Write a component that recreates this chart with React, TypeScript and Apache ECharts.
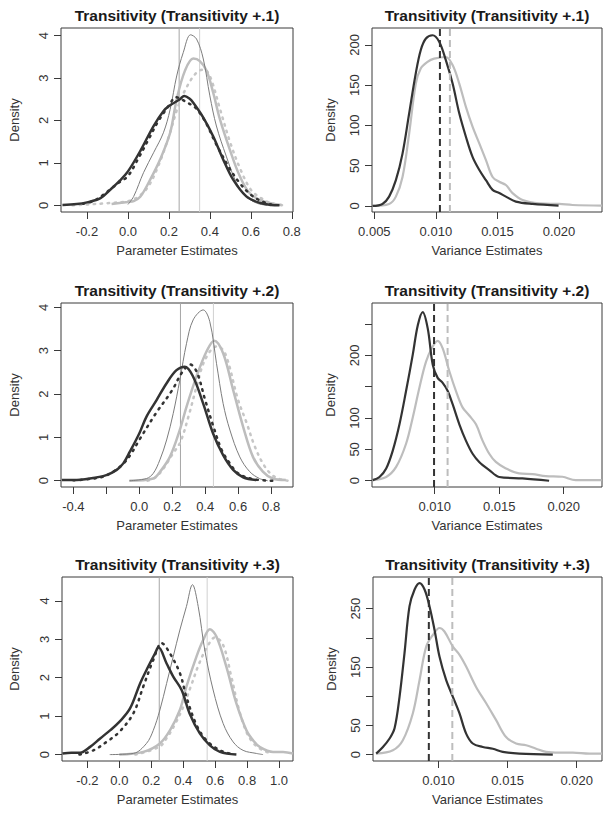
import React, { useEffect, useRef } from "react";
import * as echarts from "echarts";

// ---------- Data ----------
// Panel 1: Parameter estimates, Transitivity +.1
const p1DarkSolid = [[-0.32,0.01],[-0.25,0.03],[-0.2,0.07],[-0.134,0.17],[-0.086,0.37],[-0.04,0.58],[0.0,0.8],[0.06,1.28],[0.125,1.87],[0.173,2.22],[0.2,2.34],[0.254,2.5],[0.275,2.58],[0.3,2.52],[0.319,2.42],[0.368,2.07],[0.416,1.63],[0.465,1.08],[0.513,0.61],[0.578,0.21],[0.643,0.06],[0.7,0.01],[0.74,0]];
const p1DarkDot = [[-0.22,0.04],[-0.17,0.1],[-0.12,0.25],[-0.08,0.4],[-0.04,0.55],[0.0,0.69],[0.05,1.1],[0.1,1.55],[0.15,2.0],[0.2,2.35],[0.235,2.55],[0.26,2.5],[0.29,2.42],[0.33,2.3],[0.38,1.95],[0.43,1.45],[0.5,0.84],[0.55,0.5],[0.6,0.25],[0.65,0.1],[0.7,0.02]];
const p1Thin = [[0.0,0.02],[0.028,0.21],[0.076,0.77],[0.125,1.24],[0.173,1.71],[0.206,2.26],[0.238,3.05],[0.27,3.6],[0.306,4.02],[0.335,3.92],[0.368,3.45],[0.4,2.58],[0.432,1.87],[0.48,1.16],[0.53,0.53],[0.578,0.21],[0.627,0.055],[0.68,0.0]];
const p1Light = [[-0.08,0.03],[0.0,0.08],[0.028,0.1],[0.06,0.2],[0.108,0.6],[0.157,1.08],[0.206,1.71],[0.238,2.5],[0.278,3.17],[0.319,3.46],[0.351,3.4],[0.384,3.17],[0.416,2.66],[0.449,2.03],[0.497,1.32],[0.546,0.69],[0.594,0.29],[0.66,0.1],[0.75,0.01]];
const p1LightDot = [[-0.27,0.0],[-0.2,0.02],[-0.1,0.05],[0.0,0.1],[0.05,0.2],[0.1,0.45],[0.15,0.95],[0.2,1.63],[0.25,2.4],[0.3,2.9],[0.34,3.15],[0.37,3.2],[0.4,3.05],[0.45,2.26],[0.5,1.47],[0.55,0.84],[0.6,0.37],[0.65,0.17],[0.7,0.05],[0.76,0.0]];
const p1TrueValues = [0.25, 0.35];

// Panel 2: Variance estimates, Transitivity +.1
const p2Dark = [[0.00485,0],[0.00566,2.5],[0.0062,11.6],[0.00675,32],[0.00729,65],[0.00783,115],[0.00837,165],[0.00878,194],[0.00919,208],[0.00973,212],[0.01027,204],[0.01081,181],[0.01136,152],[0.0119,115],[0.01244,86],[0.01298,61],[0.01352,45],[0.01407,32],[0.01461,20],[0.01515,16],[0.01569,11.6],[0.0165,5.4],[0.01786,2.5],[0.01997,0.4]];
const p2Light = [[0.00485,0],[0.0062,2.5],[0.00675,11.6],[0.00729,36],[0.00783,90],[0.00837,152],[0.00878,171],[0.00932,179],[0.00986,183],[0.01081,185],[0.01136,175],[0.0119,152],[0.01244,123],[0.01298,98.5],[0.01352,78],[0.01407,57],[0.01461,36],[0.01515,30],[0.01569,26],[0.01623,16],[0.01705,7.5],[0.0184,3.3],[0.02003,2.5],[0.02111,1.2],[0.0235,0.4]];
const p2Means = [0.01033, 0.01114];

// Panel 3: Parameter estimates, Transitivity +.2
const p3DarkSolid = [[-0.47,0.015],[-0.4,0.015],[-0.3,0.05],[-0.2,0.13],[-0.137,0.25],[-0.097,0.4],[-0.057,0.67],[0.0,1.09],[0.044,1.48],[0.105,1.86],[0.166,2.25],[0.226,2.55],[0.277,2.63],[0.327,2.4],[0.388,1.78],[0.448,1.09],[0.509,0.59],[0.57,0.25],[0.63,0.08],[0.71,0.015]];
const p3DarkDot = [[-0.4,0.01],[-0.3,0.04],[-0.2,0.12],[-0.1,0.38],[-0.05,0.62],[0.0,0.94],[0.1,1.55],[0.2,2.09],[0.26,2.5],[0.31,2.68],[0.35,2.5],[0.4,1.86],[0.45,1.25],[0.5,0.71],[0.55,0.4],[0.6,0.17],[0.7,0.03],[0.83,0.0]];
const p3Thin = [[-0.06,0.0],[0.044,0.05],[0.085,0.17],[0.125,0.48],[0.166,0.94],[0.206,1.55],[0.246,2.32],[0.287,3.17],[0.327,3.71],[0.388,3.94],[0.428,3.67],[0.469,2.7],[0.509,1.78],[0.55,1.17],[0.61,0.55],[0.67,0.21],[0.73,0.05],[0.78,0.0]];
const p3Light = [[-0.06,0.0],[0.085,0.05],[0.125,0.2],[0.186,0.55],[0.246,1.17],[0.287,1.71],[0.347,2.4],[0.408,2.98],[0.455,3.23],[0.509,2.94],[0.57,2.09],[0.63,1.25],[0.69,0.55],[0.75,0.21],[0.81,0.05],[0.89,0.015]];
const p3LightDot = [[0.05,0.0],[0.1,0.08],[0.15,0.3],[0.2,0.6],[0.25,0.9],[0.3,1.5],[0.35,2.2],[0.4,2.8],[0.47,3.1],[0.52,2.95],[0.6,1.86],[0.65,1.35],[0.7,0.8],[0.75,0.4],[0.8,0.15],[0.85,0.04],[0.9,0.0]];
const p3TrueValues = [0.25, 0.45];

// Panel 4: Variance estimates, Transitivity +.2
const p4Dark = [[0.0052,1],[0.00572,6],[0.00624,19.5],[0.00675,48],[0.00727,90],[0.00778,143],[0.0083,201],[0.00869,248],[0.00907,269],[0.00946,243],[0.00985,185],[0.01023,164],[0.01062,156],[0.01101,143],[0.01139,122],[0.01191,90],[0.01242,64],[0.01294,43],[0.01345,30],[0.01423,17],[0.015,6],[0.0168,3.7],[0.01887,0]];
const p4Light = [[0.0052,1],[0.00624,6],[0.00701,22],[0.00778,59],[0.0083,101],[0.00881,148],[0.00933,190],[0.00985,214],[0.01023,223],[0.01062,211],[0.01113,175],[0.01165,143],[0.01216,117],[0.01268,104],[0.0132,90],[0.01371,64],[0.01423,43],[0.01474,30],[0.01552,19.5],[0.01655,11.6],[0.01758,10.5],[0.01861,7.4],[0.0199,6.3],[0.02093,1],[0.02294,1]];
const p4Means = [0.00995, 0.0110];

// Panel 5: Parameter estimates, Transitivity +.3
const p5DarkSolid = [[-0.356,0.03],[-0.3,0.05],[-0.246,0.05],[-0.183,0.2],[-0.12,0.42],[-0.058,0.63],[0.0,0.85],[0.067,1.2],[0.13,1.85],[0.181,2.29],[0.223,2.63],[0.245,2.79],[0.296,2.37],[0.3375,2.03],[0.39,1.68],[0.44,1.07],[0.504,0.55],[0.567,0.24],[0.63,0.07],[0.733,0]];
const p5DarkDot = [[-0.25,0],[-0.1625,0.11],[-0.08,0.33],[0.0,0.59],[0.0875,1.07],[0.15,1.77],[0.2125,2.46],[0.265,2.9],[0.317,2.63],[0.38,2.11],[0.42,1.5],[0.483,0.77],[0.546,0.37],[0.63,0.11],[0.69,0.03]];
const p5Thin = [[-0.06,0],[0.0875,0.03],[0.17,0.29],[0.2125,0.63],[0.254,1.16],[0.296,1.85],[0.3375,2.55],[0.379,3.24],[0.42,3.85],[0.458,4.42],[0.494,3.85],[0.535,2.72],[0.5875,1.68],[0.65,0.81],[0.7125,0.33],[0.775,0.11],[0.858,0.03],[0.9,0]];
const p5Light = [[0.0,0],[0.15,0.07],[0.254,0.29],[0.317,0.63],[0.379,1.16],[0.42,1.77],[0.483,2.55],[0.525,2.98],[0.567,3.26],[0.608,3.07],[0.67,2.29],[0.733,1.33],[0.796,0.63],[0.8375,0.37],[0.879,0.2],[0.9625,0.07],[1.025,0.07],[1.0875,0.03]];
const p5LightDot = [[0.1,0],[0.25,0.2],[0.3,0.45],[0.35,0.8],[0.4,1.24],[0.45,1.8],[0.5,2.37],[0.55,2.8],[0.6,3.05],[0.65,2.85],[0.7,2.05],[0.75,1.16],[0.8,0.55],[0.85,0.25],[0.9,0.11],[0.95,0.03]];
const p5TrueValues = [0.25, 0.55];

// Panel 6: Variance estimates, Transitivity +.3
const p6Dark = [[0.00549,1.7],[0.00598,13],[0.00646,27.5],[0.00682,45],[0.00718,99],[0.00754,174],[0.0079,254],[0.00827,283],[0.00863,294],[0.00899,283],[0.00935,254],[0.00971,214],[0.01007,168],[0.01055,128],[0.01104,99],[0.01152,70.5],[0.012,36],[0.01248,19],[0.0132,13],[0.01393,10],[0.01465,4.6],[0.01585,1.7],[0.01827,0]];
const p6Light = [[0.00549,1.7],[0.0067,7.5],[0.00742,24.7],[0.00814,70.5],[0.00863,128],[0.00911,185],[0.00959,205],[0.01007,217],[0.01043,211],[0.01104,185],[0.01152,171],[0.012,151],[0.01272,116],[0.01345,88],[0.01417,59],[0.01489,30],[0.01561,19],[0.01634,16],[0.01706,10],[0.01778,4.6],[0.01875,3.4],[0.01971,3.4],[0.02092,1.7],[0.02183,1.7]];
const p6Means = [0.0093, 0.011];

// Ticks and labels
const p1XTicks = [-0.2, 0, 0.2, 0.4, 0.6, 0.8];
const p1YTicks = [0, 1, 2, 3, 4];
const p2XTicks = [0.005, 0.01, 0.015, 0.02];
const p2YTicks = [0, 50, 100, 150, 200];
const p3XTicks = [-0.4, -0.2, 0, 0.2, 0.4, 0.6, 0.8];
const p3XLabels = [-0.4, 0, 0.2, 0.4, 0.6, 0.8];
const p3YTicks = [0, 1, 2, 3, 4];
const p4XTicks = [0.01, 0.015, 0.02];
const p4YTicks = [0, 50, 100, 150, 200, 250];
const p4YLabels = [0, 50, 100, 200];
const p5XTicks = [-0.2, 0, 0.2, 0.4, 0.6, 0.8, 1.0];
const p5YTicks = [0, 1, 2, 3, 4];
const p6XTicks = [0.01, 0.015, 0.02];
const p6YTicks = [0, 50, 100, 150, 200, 250];
const p6YLabels = [0, 50, 150, 250];

const titles = [
  "Transitivity (Transitivity +.1)",
  "Transitivity (Transitivity +.1)",
  "Transitivity (Transitivity +.2)",
  "Transitivity (Transitivity +.2)",
  "Transitivity (Transitivity +.3)",
  "Transitivity (Transitivity +.3)",
];
const xNames = ["Parameter Estimates", "Variance Estimates"];
const yName = "Density";

// ---------- Styles ----------
const DARK = "#333333";
const THIN = "#7c7c7c";
const LIGHT = "#bdbdbd";
const VLINE1 = "#a6a6a6";
const VLINE2 = "#d0d0d0";
const FONT = '"Liberation Sans", Arial, Helvetica, sans-serif';

type Panel = {
  left: number; top: number; width: number; height: number;
  xMin: number; xMax: number; yMin: number; yMax: number;
  xTicks: number[]; xLabels: number[]; yTicks: number[]; yLabels: number[];
  xDigits: number; kind: "param" | "var";
  nameGapY: number; nameGapX: number; labelMarginX: number;
  title: string; xName: string;
  curves: { data: number[][]; style: string }[];
  vlines: { v: number; style: string }[];
};

const panels: Panel[] = [
  {
    left: 61, top: 28, width: 232, height: 184,
    xMin: -0.327, xMax: 0.806, yMin: -0.157, yMax: 4.18,
    xTicks: p1XTicks, xLabels: p1XTicks, yTicks: p1YTicks, yLabels: p1YTicks,
    xDigits: 1, kind: "param", nameGapY: 40, nameGapX: 32, labelMarginX: 13,
    title: titles[0], xName: xNames[0],
    curves: [
      { data: p1LightDot, style: "lightDot" },
      { data: p1Light, style: "light" },
      { data: p1Thin, style: "thin" },
      { data: p1DarkDot, style: "darkDot" },
      { data: p1DarkSolid, style: "darkSolid" },
    ],
    vlines: [{ v: p1TrueValues[0], style: "v1" }, { v: p1TrueValues[1], style: "v2" }],
  },
  {
    left: 372, top: 28, width: 230, height: 184,
    xMin: 0.00481, xMax: 0.0235, yMin: -7.5, yMax: 221,
    xTicks: p2XTicks, xLabels: p2XTicks, yTicks: p2YTicks, yLabels: p2YTicks,
    xDigits: 3, kind: "var", nameGapY: 35, nameGapX: 32, labelMarginX: 13,
    title: titles[1], xName: xNames[1],
    curves: [
      { data: p2Light, style: "varLight" },
      { data: p2Dark, style: "varDark" },
    ],
    vlines: [{ v: p2Means[0], style: "dashDark" }, { v: p2Means[1], style: "dashLight" }],
  },
  {
    left: 61, top: 303, width: 232, height: 184,
    xMin: -0.475, xMax: 0.933, yMin: -0.145, yMax: 4.1,
    xTicks: p3XTicks, xLabels: p3XLabels, yTicks: p3YTicks, yLabels: p3YTicks,
    xDigits: 1, kind: "param", nameGapY: 40, nameGapX: 32, labelMarginX: 13,
    title: titles[2], xName: xNames[0],
    curves: [
      { data: p3LightDot, style: "lightDot" },
      { data: p3Light, style: "light" },
      { data: p3Thin, style: "thin" },
      { data: p3DarkDot, style: "darkDot" },
      { data: p3DarkSolid, style: "darkSolid" },
    ],
    vlines: [{ v: p3TrueValues[0], style: "v1" }, { v: p3TrueValues[1], style: "v2" }],
  },
  {
    left: 372, top: 303, width: 230, height: 184,
    xMin: 0.00514, xMax: 0.02297, yMin: -10, yMax: 283.4,
    xTicks: p4XTicks, xLabels: p4XTicks, yTicks: p4YTicks, yLabels: p4YLabels,
    xDigits: 3, kind: "var", nameGapY: 35, nameGapX: 32, labelMarginX: 13,
    title: titles[3], xName: xNames[1],
    curves: [
      { data: p4Light, style: "varLight" },
      { data: p4Dark, style: "varDark" },
    ],
    vlines: [{ v: p4Means[0], style: "dashDark" }, { v: p4Means[1], style: "dashLight" }],
  },
  {
    left: 62, top: 577, width: 231, height: 184,
    xMin: -0.359, xMax: 1.0875, yMin: -0.167, yMax: 4.62,
    xTicks: p5XTicks, xLabels: p5XTicks, yTicks: p5YTicks, yLabels: p5YTicks,
    xDigits: 1, kind: "param", nameGapY: 41, nameGapX: 32, labelMarginX: 13,
    title: titles[4], xName: xNames[0],
    curves: [
      { data: p5LightDot, style: "lightDot" },
      { data: p5Light, style: "light" },
      { data: p5Thin, style: "thin" },
      { data: p5DarkDot, style: "darkDot" },
      { data: p5DarkSolid, style: "darkSolid" },
    ],
    vlines: [{ v: p5TrueValues[0], style: "v1" }, { v: p5TrueValues[1], style: "v2" }],
  },
  {
    left: 373, top: 577, width: 229, height: 184,
    xMin: 0.00526, xMax: 0.02183, yMin: -11, yMax: 304.4,
    xTicks: p6XTicks, xLabels: p6XTicks, yTicks: p6YTicks, yLabels: p6YLabels,
    xDigits: 3, kind: "var", nameGapY: 35, nameGapX: 32, labelMarginX: 13,
    title: titles[5], xName: xNames[1],
    curves: [
      { data: p6Light, style: "varLight" },
      { data: p6Dark, style: "varDark" },
    ],
    vlines: [{ v: p6Means[0], style: "dashDark" }, { v: p6Means[1], style: "dashLight" }],
  },
];

function lineStyleFor(style: string): any {
  switch (style) {
    case "darkSolid": return { color: DARK, width: 2.5 };
    case "darkDot": return { color: DARK, width: 2.5, type: [1.5, 5.5], cap: "round" };
    case "thin": return { color: THIN, width: 1 };
    case "light": return { color: LIGHT, width: 2.5 };
    case "lightDot": return { color: "#c6c6c6", width: 2.5, type: [1.5, 5.5], cap: "round" };
    case "varDark": return { color: DARK, width: 2.2 };
    case "varLight": return { color: LIGHT, width: 2.2 };
    case "v1": return { color: VLINE1, width: 1 };
    case "v2": return { color: VLINE2, width: 1 };
    case "dashDark": return { color: DARK, width: 2, type: [7, 4] };
    case "dashLight": return { color: LIGHT, width: 2, type: [7, 4] };
  }
  return {};
}

function buildOption() {
  const grid: any[] = [];
  const xAxis: any[] = [];
  const yAxis: any[] = [];
  const series: any[] = [];
  const graphic: any[] = [];

  panels.forEach((p, i) => {
    grid.push({
      left: p.left, top: p.top, width: p.width, height: p.height,
      show: true, borderColor: "#3a3a3a", borderWidth: 1, backgroundColor: "transparent",
      containLabel: false,
    });
    xAxis.push({
      type: "value", gridIndex: i, min: p.xMin, max: p.xMax, position: "bottom",
      axisLine: { show: false, onZero: false },
      splitLine: { show: false },
      axisTick: { show: true, inside: false, length: 7, customValues: p.xTicks, lineStyle: { color: "#3a3a3a", width: 1 } },
      axisLabel: {
        show: true, customValues: p.xLabels, margin: p.labelMarginX,
        color: "#333", fontFamily: FONT, fontSize: 13,
        formatter: (v: number) => v.toFixed(p.xDigits),
      },
      name: p.xName, nameLocation: "middle", nameGap: p.nameGapX,
      nameTextStyle: { color: "#333", fontFamily: FONT, fontSize: 13 },
    });
    yAxis.push({
      type: "value", gridIndex: i, min: p.yMin, max: p.yMax, position: "left",
      axisLine: { show: false, onZero: false },
      splitLine: { show: false },
      axisTick: { show: true, inside: false, length: 7, customValues: p.yTicks, lineStyle: { color: "#3a3a3a", width: 1 } },
      axisLabel: {
        show: true, customValues: p.yLabels, margin: 11, rotate: 90,
        color: "#333", fontFamily: FONT, fontSize: 13,
        formatter: (v: number) => String(Math.round(v)),
      },
      name: yName, nameLocation: "middle", nameGap: p.nameGapY, nameRotate: 90,
      nameTextStyle: { color: "#333", fontFamily: FONT, fontSize: 13 },
    });

    const vSeries = p.vlines.map((vl) => ({
      type: "line", xAxisIndex: i, yAxisIndex: i,
      data: [[vl.v, p.yMin], [vl.v, p.yMax]],
      showSymbol: false, symbol: "none", silent: true,
      lineStyle: lineStyleFor(vl.style),
    }));
    const cSeries = p.curves.map((c) => ({
      type: "line", xAxisIndex: i, yAxisIndex: i,
      data: c.data, smooth: 0.35,
      showSymbol: false, symbol: "none", silent: true,
      lineStyle: lineStyleFor(c.style),
    }));
    if (p.kind === "param") {
      series.push(...vSeries, ...cSeries);
    } else {
      series.push(...cSeries, ...vSeries);
    }

    graphic.push({
      type: "text",
      x: p.left + p.width / 2,
      y: p.top - 13,
      style: {
        text: p.title, textAlign: "center", textVerticalAlign: "middle",
        font: `bold 15.5px ${FONT}`, fill: "#1a1a1a",
      },
    });
  });

  return {
    animation: false,
    backgroundColor: "#ffffff",
    grid, xAxis, yAxis, series, graphic,
  };
}

export default function App() {
  const ref = useRef<HTMLDivElement>(null);
  useEffect(() => {
    if (!ref.current) return;
    const chart = echarts.init(ref.current, undefined, { renderer: "svg" });
    chart.setOption(buildOption() as any);
    return () => chart.dispose();
  }, []);
  return (
    <div
      ref={ref}
      style={{ position: "absolute", left: 0, top: 0, width: 613, height: 813, background: "#fff" }}
    />
  );
}
